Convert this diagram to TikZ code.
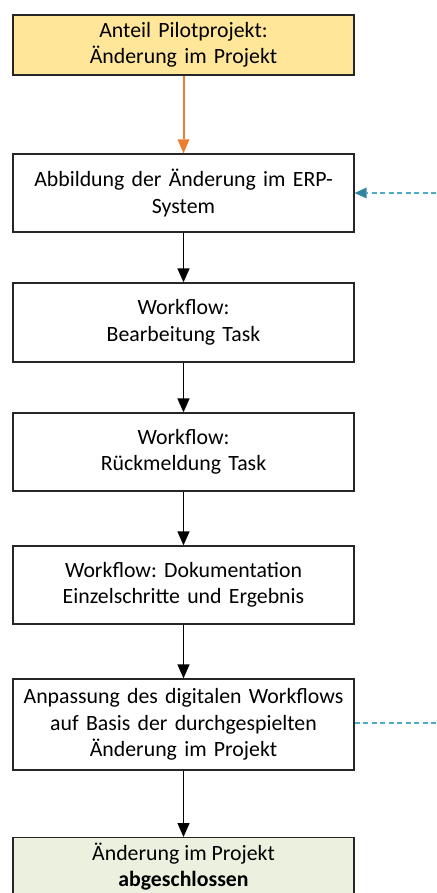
\documentclass[tikz,border=0pt]{standalone}
\usepackage{fontspec}
\setmainfont{Carlito}
\usetikzlibrary{arrows.meta}
\definecolor{startfill}{RGB}{255,230,153}
\definecolor{endfill}{RGB}{235,241,222}
\definecolor{orangeline}{RGB}{237,125,49}
\definecolor{backline}{RGB}{75,172,198}
\definecolor{backtip}{RGB}{49,133,156}
\frenchspacing
\begin{document}
\begin{tikzpicture}[x=1pt,y=-1pt,
  every node/.style={font=\fontsize{21.8}{26.5}\selectfont},
  procbox/.style={draw=black!85, line width=1.3pt, minimum width=341pt, inner sep=0pt, align=center, text width=335pt},
  flow/.style={draw=black, line width=1.4pt, -{Triangle[width=12pt,length=14pt]}},
  startflow/.style={orangeline, line width=2pt, -{Triangle[width=12pt,length=14pt,line width=0pt]}},
  feedback/.style={draw=backline, line width=1.2pt, dash pattern=on 5pt off 3.5pt},
  feedbacktip/.style={feedback, -{Triangle[width=11pt,length=12pt,fill=backtip,line width=0pt]}}]
\useasboundingbox (0,0) rectangle (436,893);
\begin{scope}
\clip (0,0) rectangle (436,893);
\node[procbox, fill=startfill, minimum height=60pt] (s) at (183.5,45) {Anteil Pilotprojekt:\\Änderung im Projekt};
\node[procbox, minimum height=78pt] (erp) at (183.5,193) {Abbildung der Änderung im ERP-\\System};
\node[procbox, minimum height=79pt] (bearb) at (183.5,322.5) {Workflow:\\Bearbeitung Task};
\node[procbox, minimum height=78pt] (rueck) at (183.5,452) {Workflow:\\Rückmeldung Task};
\node[procbox, minimum height=78pt] (doku) at (183.5,585) {Workflow: Dokumentation\\Einzelschritte und Ergebnis};
\node[procbox, minimum height=91pt] (anp) at (183.5,724.5) {Anpassung des digitalen Workflows\\auf Basis der durchgespielten\\Änderung im Projekt};
\node[procbox, fill=endfill, minimum height=70pt, anchor=north] (ende) at (183.5,837) {};
\node[anchor=north, align=center] (endetext) at (183.5,839) {Änderung im Projekt\\\textbf{abgeschlossen}};
\end{scope}
\coordinate (inR) at (436,193);
\coordinate (outR) at (436,723);
\draw[startflow] (s.south) -- (erp.north);
\draw[flow] (erp) -- (bearb);
\draw[flow] (bearb) -- (rueck);
\draw[flow] (rueck) -- (doku);
\draw[flow] (doku) -- (anp);
\draw[flow] (anp) -- (ende);
\draw[feedbacktip] (inR) -- (erp.east |- inR);
\draw[feedback] (anp.east |- outR) -- (outR);
\end{tikzpicture}
\end{document}
